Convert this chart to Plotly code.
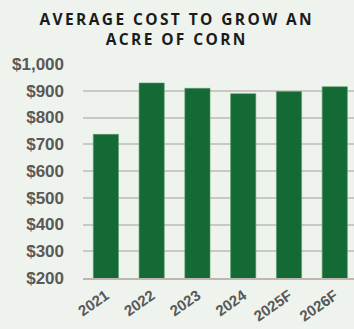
import plotly.graph_objects as go

years = ["2021", "2022", "2023", "2024", "2025F", "2026F"]
costs = [737, 929, 909, 889, 897, 915]
y_ticks = [200, 300, 400, 500, 600, 700, 800, 900, 1000]
y_tick_labels = ["$200", "$300", "$400", "$500", "$600", "$700", "$800", "$900", "$1,000"]
title_text = "AVERAGE COST TO GROW AN<br>ACRE OF CORN"

fig = go.Figure(
    go.Bar(
        x=years,
        y=costs,
        marker=dict(color="#146a34", line=dict(color="#5d9a6c", width=0.6)),
        width=0.55,
    )
)

fig.update_layout(
    width=354,
    height=329,
    margin=dict(l=83, r=0, t=64, b=51, autoexpand=False),
    paper_bgcolor="#eef3ed",
    plot_bgcolor="#eef3ed",
    showlegend=False,
    bargap=0.45,
)

fig.add_annotation(
    text=title_text,
    xref="paper",
    x=(177 - 83) / 271,
    xanchor="center",
    yref="paper",
    y=1,
    yanchor="bottom",
    yshift=12,
    showarrow=False,
    align="center",
    font=dict(family="Open Sans", size=15.5, color="#1b1b1b", weight="bold"),
)

fig.update_yaxes(
    range=[200, 1000],
    tickvals=y_ticks,
    ticktext=y_tick_labels,
    showgrid=True,
    gridcolor="#cac8c4",
    gridwidth=1.5,
    zeroline=False,
    ticks="",
    automargin=False,
    ticklabelstandoff=18,
    tickfont=dict(family="Liberation Sans", size=17, color="#595959", weight="bold"),
)

fig.update_xaxes(
    range=[-0.5, 5.42],
    tickangle=-35,
    showline=True,
    linecolor="#bdb7b0",
    linewidth=2,
    ticks="",
    automargin=False,
    ticklabelstandoff=1,
    tickfont=dict(family="Liberation Sans", size=15, color="#595959", weight="bold"),
)

fig.write_html(
    "out.html",
    config={"displayModeBar": False},
    post_script="document.querySelectorAll('.annotation-text').forEach(function(e){e.style.letterSpacing='2.4px';});",
)
